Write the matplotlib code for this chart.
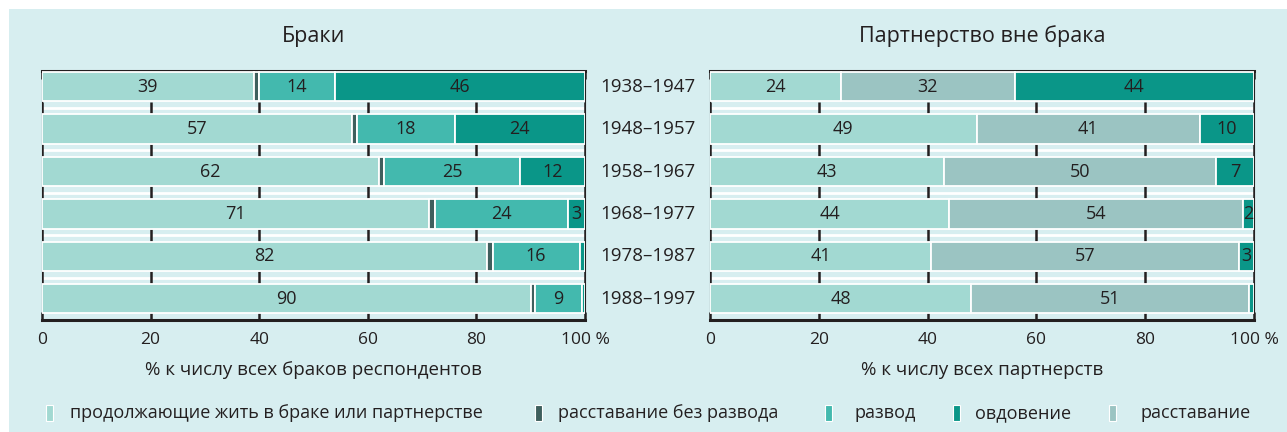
import matplotlib
matplotlib.use("Agg")
import matplotlib.pyplot as plt
import matplotlib.transforms as mtrans
from matplotlib.patches import Rectangle
import numpy as np

plt.rcParams['font.family'] = ['Open Sans', 'DejaVu Sans']

periods = ["1938–1947", "1948–1957", "1958–1967", "1968–1977", "1978–1987", "1988–1997"]

# Браки
mar_continue = [39, 57, 62, 71.2, 82, 90]
mar_sep_no_div = [1, 1, 1, 1.2, 1, 0.8]
mar_divorce = [14, 18, 25, 24.4, 16, 8.6]
mar_widow = [46, 24, 12, 3.2, 1, 0.6]

# Партнерство вне брака
par_continue = [24, 49, 43, 44, 40.7, 48]
par_separation = [32, 41, 50, 54, 56.6, 51]
par_widow = [44, 10, 7, 2, 2.7, 1]

legend_labels = ["продолжающие жить в браке или партнерстве", "расставание без развода",
                 "развод", "овдовение", "расставание"]

C_CONT = "#a2d9d2"
C_SEP = "#3e5f5d"
C_DIV = "#43b9ae"
C_WID = "#0a9688"
C_PSEP = "#9bc4c2"
BG = "#d7eef0"
TXT = "#231f20"

W, H = 1287, 432
fig = plt.figure(figsize=(W / 100, H / 100), dpi=100, facecolor="white")
fig.patches.append(Rectangle((9 / W, 0), 1, (H - 9) / H, transform=fig.transFigure,
                             facecolor=BG, edgecolor="none", zorder=-10))

ax_l = fig.add_axes([42 / W, 112 / H, 543 / W, 249 / H])
ax_r = fig.add_axes([710 / W, 112 / H, 544 / W, 249 / H])

y = np.arange(len(periods))
BH = 0.69


def draw(ax, series, colors, title, xlabel):
    ax.set_facecolor("none")
    left = np.zeros(len(periods))
    for vals, col in zip(series, colors):
        vals = np.array(vals, dtype=float)
        ax.barh(y, vals, left=left, height=BH, color=col, edgecolor="white", linewidth=1.3, zorder=3)
        if col != C_SEP:
            for yi, (v, l) in enumerate(zip(vals, left)):
                if v >= 2:
                    ax.text(l + v / 2, yi, f"{v:.0f}", ha="center", va="center",
                            fontsize=13, color=TXT, zorder=5)
        left += vals
    ax.set_xlim(0, 100)
    ax.set_ylim(5.5, -0.37)
    # row separators
    for b in np.arange(0.5, len(periods) - 0.5, 1):
        ax.axhline(b, color="white", lw=2, zorder=1)
        ax.vlines([0, 20, 40, 60, 80, 100], b - 0.15, b + 0.15, color=TXT, lw=1.8, zorder=2)
    ax.set_yticks([])
    ax.set_xticks([0, 20, 40, 60, 80, 100])
    ax.set_xticklabels(["0", "20", "40", "60", "80", "100 %"], fontsize=12.5, color=TXT)
    ax.tick_params(axis="x", direction="in", length=6, width=1.8, color=TXT,
                   top=True, bottom=True, pad=9)
    for s in ["top", "bottom"]:
        ax.spines[s].set_linewidth(2.2)
        ax.spines[s].set_color(TXT)
    for s in ["left", "right"]:
        ax.spines[s].set_linewidth(0.8)
        ax.spines[s].set_color(TXT)
    ax.set_xlabel(xlabel, fontsize=13.5, color=TXT, labelpad=9)
    ax.set_title(title, fontsize=15.5, color=TXT, pad=21)


draw(ax_l, [mar_continue, mar_sep_no_div, mar_divorce, mar_widow],
     [C_CONT, C_SEP, C_DIV, C_WID], "Браки", "% к числу всех браков респондентов")
draw(ax_r, [par_continue, par_separation, par_widow],
     [C_CONT, C_PSEP, C_WID], "Партнерство вне брака", "% к числу всех партнерств")

tr = mtrans.blended_transform_factory(fig.transFigure, ax_l.transData)
for yi, p in enumerate(periods):
    ax_l.text(647.5 / W, yi, p, transform=tr, ha="center", va="center",
              fontsize=13.5, color=TXT, clip_on=False)

# legend
leg_colors = [C_CONT, C_SEP, C_DIV, C_WID, C_PSEP]
marker_x = [46, 535, 825, 953, 1109]
text_x = [70, 558, 854, 975, 1141]
ly = 413
for mx, tx, col, lab in zip(marker_x, text_x, leg_colors, legend_labels):
    fig.patches.append(Rectangle((mx / W, (H - ly - 8) / H), 7 / W, 16 / H,
                                 transform=fig.transFigure, facecolor=col,
                                 edgecolor="white", linewidth=0.8))
    fig.text(tx / W, (H - ly) / H, lab, ha="left", va="center",
             fontsize=13, color=TXT)

fig.savefig("out.png", dpi=100, facecolor="white")
